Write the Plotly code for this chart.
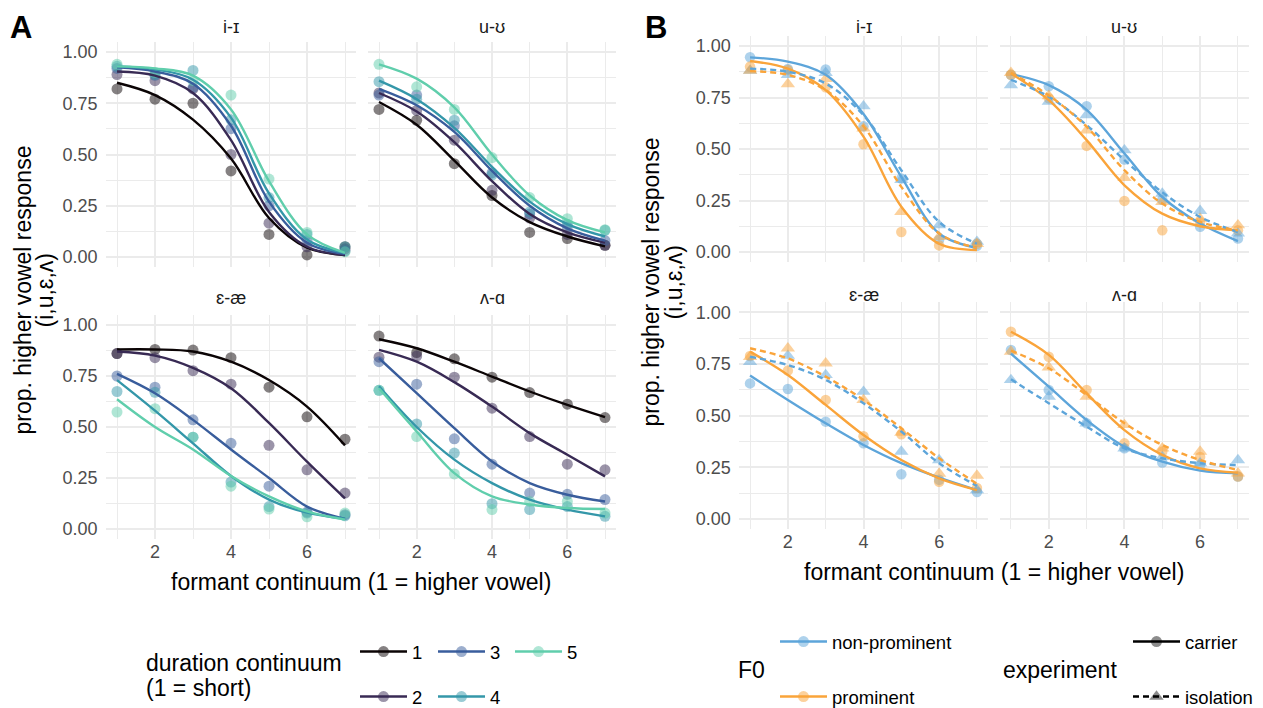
import plotly.graph_objects as go

# ---------------- data ----------------
formant_steps = [1, 2, 3, 4, 5, 6, 7]
vowel_pairs = ["i-ɪ", "u-ʊ", "ɛ-æ", "ʌ-ɑ"]
duration_levels = ["1", "2", "3", "4", "5"]
f0_levels = ["non-prominent", "prominent"]
experiment_levels = ["carrier", "isolation"]

# Panel A: observed proportions (rows = duration step 1..5)
a_ii_obs = [
    [0.82, 0.77, 0.75, 0.42, 0.11, 0.01, 0.05],
    [0.89, 0.86, 0.82, 0.50, 0.165, 0.05, 0.04],
    [0.92, 0.886, 0.826, 0.626, 0.25, 0.08, 0.03],
    [0.93, 0.89, 0.91, 0.67, 0.29, 0.11, 0.05],
    [0.94, 0.90, 0.86, 0.79, 0.38, 0.12, 0.025],
]
a_ii_fit = [
    [0.85, 0.79, 0.67, 0.48, 0.19, 0.045, 0.01],
    [0.905, 0.885, 0.80, 0.57, 0.22, 0.05, 0.01],
    [0.925, 0.905, 0.845, 0.64, 0.27, 0.07, 0.015],
    [0.93, 0.915, 0.865, 0.68, 0.31, 0.085, 0.02],
    [0.93, 0.92, 0.885, 0.72, 0.37, 0.11, 0.02],
]
a_uu_obs = [
    [0.72, 0.667, 0.455, 0.30, 0.12, 0.09, 0.057],
    [0.80, 0.715, 0.57, 0.325, 0.19, 0.11, 0.057],
    [0.79, 0.79, 0.64, 0.41, 0.21, 0.146, 0.08],
    [0.855, 0.77, 0.667, 0.40, 0.22, 0.16, 0.13],
    [0.94, 0.83, 0.72, 0.485, 0.29, 0.187, 0.133],
]
a_uu_fit = [
    [0.756, 0.645, 0.47, 0.29, 0.17, 0.10, 0.052],
    [0.80, 0.71, 0.56, 0.37, 0.21, 0.12, 0.07],
    [0.82, 0.74, 0.61, 0.42, 0.25, 0.14, 0.08],
    [0.86, 0.77, 0.63, 0.44, 0.27, 0.16, 0.10],
    [0.94, 0.87, 0.73, 0.50, 0.30, 0.18, 0.12],
]
a_ee_obs = [
    [0.86, 0.88, 0.877, 0.84, 0.695, 0.55, 0.44],
    [0.86, 0.84, 0.776, 0.71, 0.41, 0.29, 0.176],
    [0.75, 0.695, 0.535, 0.42, 0.21, 0.083, 0.07],
    [0.674, 0.67, 0.45, 0.23, 0.11, 0.078, 0.065],
    [0.573, 0.59, 0.45, 0.21, 0.098, 0.06, 0.078],
]
a_ee_fit = [
    [0.88, 0.88, 0.87, 0.82, 0.73, 0.60, 0.41],
    [0.87, 0.85, 0.79, 0.69, 0.52, 0.33, 0.15],
    [0.76, 0.665, 0.535, 0.39, 0.25, 0.11, 0.05],
    [0.73, 0.58, 0.42, 0.26, 0.144, 0.08, 0.05],
    [0.636, 0.50, 0.39, 0.26, 0.16, 0.086, 0.046],
]
a_aa_obs = [
    [0.946, 0.865, 0.834, 0.744, 0.669, 0.612, 0.546],
    [0.842, 0.848, 0.744, 0.592, 0.453, 0.318, 0.29],
    [0.82, 0.71, 0.442, 0.318, 0.176, 0.17, 0.144],
    [0.68, 0.515, 0.372, 0.124, 0.095, 0.11, 0.062],
    [0.68, 0.453, 0.27, 0.095, 0.135, 0.135, 0.078],
]
a_aa_fit = [
    [0.93, 0.886, 0.82, 0.747, 0.674, 0.608, 0.548],
    [0.878, 0.82, 0.72, 0.60, 0.47, 0.364, 0.258],
    [0.837, 0.666, 0.494, 0.331, 0.225, 0.168, 0.135],
    [0.70, 0.50, 0.34, 0.225, 0.144, 0.095, 0.062],
    [0.69, 0.478, 0.274, 0.16, 0.12, 0.103, 0.098],
]

# Panel B: rows = (non-prominent, carrier), (prominent, carrier),
#                 (non-prominent, isolation), (prominent, isolation)
b_ii_obs = [
    [0.945, 0.888, 0.886, 0.61, 0.357, 0.06, 0.03],
    [0.90, 0.883, 0.80, 0.523, 0.097, 0.032, 0.04],
    [0.88, 0.86, 0.87, 0.708, 0.35, 0.13, 0.05],
    [0.88, 0.815, 0.84, 0.60, 0.195, 0.073, 0.04],
]
b_ii_fit = [
    [0.945, 0.924, 0.86, 0.67, 0.365, 0.09, 0.02],
    [0.927, 0.89, 0.786, 0.56, 0.22, 0.04, 0.01],
    [0.89, 0.875, 0.818, 0.664, 0.397, 0.146, 0.04],
    [0.878, 0.86, 0.786, 0.61, 0.316, 0.09, 0.02],
]
b_uu_obs = [
    [0.86, 0.805, 0.708, 0.449, 0.254, 0.122, 0.065],
    [0.86, 0.746, 0.515, 0.248, 0.105, 0.146, 0.105],
    [0.81, 0.73, 0.665, 0.494, 0.284, 0.20, 0.09],
    [0.87, 0.757, 0.59, 0.36, 0.243, 0.162, 0.13],
]
b_uu_fit = [
    [0.864, 0.81, 0.69, 0.478, 0.267, 0.138, 0.053],
    [0.867, 0.737, 0.543, 0.324, 0.186, 0.125, 0.105],
    [0.835, 0.754, 0.616, 0.446, 0.29, 0.17, 0.097],
    [0.87, 0.76, 0.608, 0.397, 0.235, 0.146, 0.105],
]
b_ee_obs = [
    [0.656, 0.629, 0.471, 0.366, 0.216, 0.19, 0.13],
    [0.789, 0.718, 0.576, 0.40, 0.41, 0.18, 0.15],
    [0.76, 0.79, 0.697, 0.616, 0.326, 0.285, 0.14],
    [0.785, 0.826, 0.753, 0.576, 0.418, 0.22, 0.21],
]
b_ee_fit = [
    [0.694, 0.576, 0.463, 0.358, 0.27, 0.20, 0.14],
    [0.81, 0.697, 0.552, 0.406, 0.285, 0.197, 0.14],
    [0.785, 0.745, 0.673, 0.56, 0.423, 0.27, 0.16],
    [0.826, 0.777, 0.689, 0.576, 0.439, 0.294, 0.17],
]
b_aa_obs = [
    [0.818, 0.624, 0.463, 0.342, 0.273, 0.26, 0.205],
    [0.906, 0.785, 0.624, 0.366, 0.326, 0.30, 0.205],
    [0.673, 0.592, 0.463, 0.342, 0.30, 0.27, 0.285],
    [0.81, 0.734, 0.592, 0.455, 0.342, 0.326, 0.221],
]
b_aa_fit = [
    [0.80, 0.64, 0.479, 0.35, 0.277, 0.234, 0.221],
    [0.906, 0.794, 0.608, 0.43, 0.31, 0.245, 0.224],
    [0.676, 0.56, 0.447, 0.342, 0.294, 0.27, 0.261],
    [0.815, 0.729, 0.60, 0.463, 0.358, 0.285, 0.237],
]

# ---------------- styling ----------------
W, H = 1263, 708
OFF = 8  # page body margin offsets the figure by 8 px
FONT = "Liberation Sans, Arial, Helvetica, sans-serif"
GRID = "#EBEBEB"
MAKO = ["#0B0405", "#382A54", "#395D9C", "#3497A9", "#60CEAC"]
F0_COLORS = ["#5DA5DA", "#FAA43A"]
TICK_SIZE = 18
TITLE_SIZE = 23
LEG_SIZE = 18.5
LW = 2.4


def rgba(hexc, a):
    h = hexc.lstrip("#")
    r, g, b = int(h[0:2], 16), int(h[2:4], 16), int(h[4:6], 16)
    return f"rgba({r},{g},{b},{a})"


def px_x(p):
    return (p - OFF) / W


def px_y(p):
    return 1 - (p - OFF) / H


# panel pixel boxes (left, right) and (top, bottom), in screen pixels
A_cols = [(105.6, 356.4), (367.7, 616.3)]
A_rows = [(41.75, 267.25), (314.8, 539.2)]
B_cols = [(738.7, 988.3), (999.6, 1249.3)]
B_rows = [(35.7, 262.3), (302.0, 529.3)]

fig = go.Figure()
layout = dict(
    width=W, height=H, margin=dict(l=0, r=0, t=0, b=0),
    paper_bgcolor="white", plot_bgcolor="white",
    font=dict(family=FONT, color="#000000"),
    showlegend=True, annotations=[],
)

a_panels = [(a_ii_obs, a_ii_fit), (a_uu_obs, a_uu_fit), (a_ee_obs, a_ee_fit), (a_aa_obs, a_aa_fit)]
b_panels = [(b_ii_obs, b_ii_fit), (b_uu_obs, b_uu_fit), (b_ee_obs, b_ee_fit), (b_aa_obs, b_aa_fit)]

strip_y_A = [27, 298]
strip_y_B = [27, 295]


def add_axes(k, col, row, show_x, show_y):
    xname = "xaxis" if k == 1 else f"xaxis{k}"
    yname = "yaxis" if k == 1 else f"yaxis{k}"
    xa = "x" if k == 1 else f"x{k}"
    ya = "y" if k == 1 else f"y{k}"
    layout[xname] = dict(
        domain=[px_x(col[0]), px_x(col[1])], range=[0.7, 7.3], anchor=ya,
        tickmode="linear", tick0=0, dtick=2, showgrid=True, gridcolor=GRID, gridwidth=2,
        minor=dict(dtick=1, showgrid=True, gridcolor=GRID, gridwidth=1.1),
        zeroline=False, showline=False, ticks="", showticklabels=show_x,
        tickfont=dict(size=TICK_SIZE, color="#4D4D4D", family=FONT), fixedrange=True,
    )
    layout[yname] = dict(
        domain=[px_y(row[1]), px_y(row[0])], range=[-0.05, 1.05], anchor=xa,
        tickmode="linear", tick0=0, dtick=0.25, tickformat=".2f",
        showgrid=True, gridcolor=GRID, gridwidth=2,
        minor=dict(dtick=0.125, showgrid=True, gridcolor=GRID, gridwidth=1.1),
        zeroline=False, showline=False, ticks="", showticklabels=show_y,
        ticklabelstandoff=7,
        tickfont=dict(size=TICK_SIZE, color="#4D4D4D", family=FONT), fixedrange=True,
    )
    return xa, ya


# ---------- Panel A ----------
for p, (obs, fit) in enumerate(a_panels):
    r, c = divmod(p, 2)
    k = p + 1
    xa, ya = add_axes(k, A_cols[c], A_rows[r], show_x=(r == 1), show_y=(c == 0))
    for d in range(len(duration_levels)):
        fig.add_trace(go.Scatter(
            x=formant_steps, y=obs[d], mode="markers", xaxis=xa, yaxis=ya, showlegend=False,
            marker=dict(size=11, color=rgba(MAKO[d], 0.5), line=dict(width=0)), hoverinfo="skip"))
    for d in range(len(duration_levels)):
        fig.add_trace(go.Scatter(
            x=formant_steps, y=fit[d], mode="lines", xaxis=xa, yaxis=ya, showlegend=False,
            line=dict(color=MAKO[d], width=LW, shape="spline", smoothing=1.0), hoverinfo="skip"))
    layout["annotations"].append(dict(
        text=vowel_pairs[p], xref="paper", yref="paper",
        x=px_x((A_cols[c][0] + A_cols[c][1]) / 2), y=px_y(strip_y_A[r]),
        xanchor="center", yanchor="middle", showarrow=False,
        font=dict(size=TICK_SIZE, color="#1A1A1A", family=FONT)))

# ---------- Panel B ----------
b_groups = [(0, 0), (1, 0), (0, 1), (1, 1)]  # (f0 index, experiment index)
for p, (obs, fit) in enumerate(b_panels):
    r, c = divmod(p, 2)
    k = p + 5
    xa, ya = add_axes(k, B_cols[c], B_rows[r], show_x=(r == 1), show_y=(c == 0))
    for g, (fi, ei) in enumerate(b_groups):
        fig.add_trace(go.Scatter(
            x=formant_steps, y=obs[g], mode="markers", xaxis=xa, yaxis=ya, showlegend=False,
            marker=dict(size=10.5 if ei == 0 else 12.5,
                        symbol="circle" if ei == 0 else "triangle-up",
                        color=rgba(F0_COLORS[fi], 0.5), line=dict(width=0)),
            hoverinfo="skip"))
    for g, (fi, ei) in enumerate(b_groups):
        fig.add_trace(go.Scatter(
            x=formant_steps, y=fit[g], mode="lines", xaxis=xa, yaxis=ya, showlegend=False,
            line=dict(color=F0_COLORS[fi], width=LW, shape="spline", smoothing=1.0,
                      dash="solid" if ei == 0 else "6px,4px"),
            hoverinfo="skip"))
    layout["annotations"].append(dict(
        text=vowel_pairs[p], xref="paper", yref="paper",
        x=px_x((B_cols[c][0] + B_cols[c][1]) / 2), y=px_y(strip_y_B[r]),
        xanchor="center", yanchor="middle", showarrow=False,
        font=dict(size=TICK_SIZE, color="#1A1A1A", family=FONT)))

# ---------- legends (one legend box per entry for exact placement) ----------
leg_counter = [0]


def new_legend(key_left, y_center):
    leg_counter[0] += 1
    name = "legend" if leg_counter[0] == 1 else f"legend{leg_counter[0]}"
    layout[name] = dict(
        x=px_x(key_left - 5), y=px_y(y_center), xanchor="left", yanchor="middle",
        bgcolor="rgba(0,0,0,0)", borderwidth=0, itemwidth=47,
        font=dict(size=LEG_SIZE, family=FONT, color="#000000"),
        itemclick=False, itemdoubleclick=False)
    return name


dur_leg_pos = [(360, 652), (360, 697), (438, 652), (438, 697), (515, 652)]
for d, lab in enumerate(duration_levels):
    lg = new_legend(*dur_leg_pos[d])
    fig.add_trace(go.Scatter(
        x=[None], y=[None], mode="lines+markers", name=lab, legend=lg, showlegend=True,
        line=dict(color=MAKO[d], width=LW),
        marker=dict(size=11, color=rgba(MAKO[d], 0.5), line=dict(width=0))))

f0_leg_pos = [(780, 642), (780, 697)]
for i, lab in enumerate(f0_levels):
    lg = new_legend(*f0_leg_pos[i])
    fig.add_trace(go.Scatter(
        x=[None], y=[None], mode="lines+markers", name=lab, legend=lg, showlegend=True,
        line=dict(color=F0_COLORS[i], width=LW),
        marker=dict(size=11, color=rgba(F0_COLORS[i], 0.5), line=dict(width=0))))

exp_leg_pos = [(1133, 642), (1133, 697)]
for i, lab in enumerate(experiment_levels):
    lg = new_legend(*exp_leg_pos[i])
    fig.add_trace(go.Scatter(
        x=[None], y=[None], mode="lines+markers", name=lab, legend=lg, showlegend=True,
        line=dict(color="#000000", width=LW, dash="solid" if i == 0 else "6px,4px"),
        marker=dict(size=11 if i == 0 else 12.5, symbol="circle" if i == 0 else "triangle-up",
                    color="rgba(0,0,0,0.45)", line=dict(width=0))))


# ---------- titles and labels ----------
def text_ann(text, x, y, size, xanchor="center", angle=0, color="#000000", yanchor="middle"):
    layout["annotations"].append(dict(
        text=text, xref="paper", yref="paper", x=px_x(x), y=px_y(y),
        xanchor=xanchor, yanchor=yanchor, showarrow=False, textangle=angle, borderpad=0,
        font=dict(size=size, color=color, family=FONT)))


text_ann("formant continuum (1 = higher vowel)", 361, 582, TITLE_SIZE)
text_ann("formant continuum (1 = higher vowel)", 994, 572, TITLE_SIZE)
text_ann("prop. higher vowel response", 22, 290.5, TITLE_SIZE, angle=-90)
text_ann("(i,u,ɛ,ʌ)", 44, 290.5, TITLE_SIZE, angle=-90)
text_ann("prop. higher vowel response", 650, 282.5, TITLE_SIZE, angle=-90)
text_ann("(i,u,ɛ,ʌ)", 673, 282.5, TITLE_SIZE, angle=-90)
text_ann("duration continuum", 145, 663, TITLE_SIZE, xanchor="left")
text_ann("(1 = short)", 145, 688, TITLE_SIZE, xanchor="left")
text_ann("F0", 737, 670, TITLE_SIZE, xanchor="left")
text_ann("experiment", 1002, 670, TITLE_SIZE, xanchor="left")
text_ann("<b>A</b>", 21, 9, 31, yanchor="top")
text_ann("<b>B</b>", 656, 9, 31, yanchor="top")

fig.update_layout(**layout)
fig.write_html("out.html")
